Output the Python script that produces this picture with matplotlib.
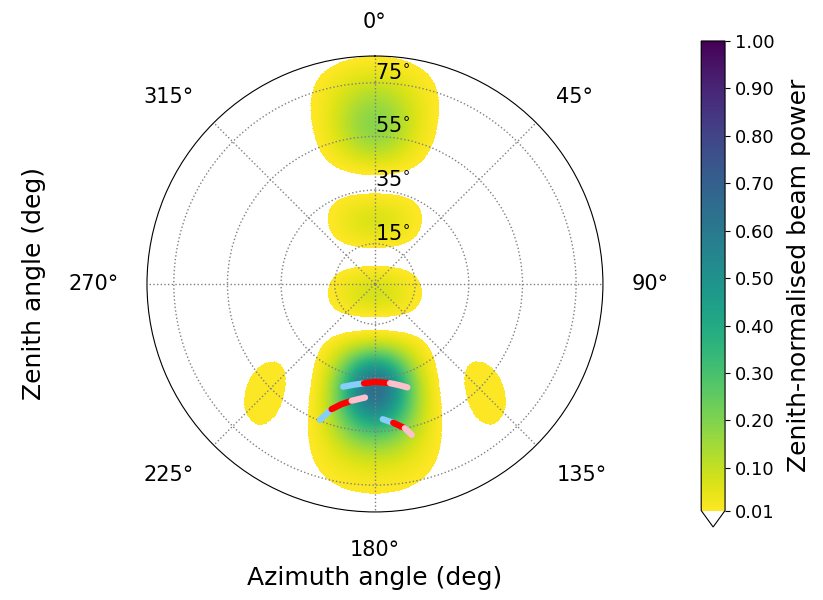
import numpy as np
import matplotlib
matplotlib.use("Agg")
import matplotlib.pyplot as plt
from matplotlib.colors import Normalize

# ---- tile beam model parameters (4x4 dipole tile over a ground plane) ----
FREQ_HZ = 158e6
DIPOLE_SPACING_M = 1.1
DIPOLE_HEIGHT_M = 0.278
N_SIDE = 4
POINT_AZ_DEG = 180.0
POINT_ZA_DEG = 43.5
ZA_MAX_DEG = 85.0
EW_PROJ_WEIGHT = 0.5   # strength of the E-W dipole foreshortening term

# ---- axes ticks ----
THETA_TICKS = [0, 45, 90, 135, 180, 225, 270, 315]
R_TICKS = [15, 35, 55, 75]
CBAR_TICKS = [0.01, 0.10, 0.20, 0.30, 0.40, 0.50, 0.60, 0.70, 0.80, 0.90, 1.00]
VMIN, VMAX = 0.01, 1.00

# ---- source tracks (azimuth, zenith angle in deg); each track has three
#      consecutive pieces drawn in SEG_COLOURS order ----
SEG_COLOURS = ["lightskyblue", "red", "pink"]
track1_az = [[197.2, 191.9, 186.3], [186.3, 180.0, 171.4], [171.4, 166.8, 162.6]]
track1_za = [[40.1, 38.4, 37.25], [37.25, 36.5, 37.4], [37.4, 38.7, 40.4]]
track2_az = [[202.0, 199.1], [199.1, 195.5, 191.3], [191.3, 185.0]]
track2_za = [[54.7, 49.4], [49.4, 46.5, 44.4], [44.4, 42.5]]
track3_az = [[176.7, 172.5], [172.5, 168.3], [168.3, 166.3]]
track3_za = [[50.5, 52.2], [52.2, 54.9], [54.9, 57.9]]


def tile_power(az_deg, za_deg):
    """Zenith-normalised tile power: array factor x ground plane x projection."""
    lam = 299792458.0 / FREQ_HZ
    k = 2 * np.pi / lam
    az = np.radians(az_deg)
    za = np.radians(za_deg)
    l = np.sin(za) * np.sin(az)
    m = np.sin(za) * np.cos(az)
    l0 = np.sin(np.radians(POINT_ZA_DEG)) * np.sin(np.radians(POINT_AZ_DEG))
    m0 = np.sin(np.radians(POINT_ZA_DEG)) * np.cos(np.radians(POINT_AZ_DEG))
    pos = (np.arange(N_SIDE) - (N_SIDE - 1) / 2.0) * DIPOLE_SPACING_M
    af_x = np.zeros(l.shape, dtype=complex)
    af_y = np.zeros(m.shape, dtype=complex)
    for p in pos:
        af_x += np.exp(1j * k * p * (l - l0))
        af_y += np.exp(1j * k * p * (m - m0))
    af = (af_x / N_SIDE) * (af_y / N_SIDE)
    gp = np.sin(k * DIPOLE_HEIGHT_M * np.cos(za)) / np.sin(k * DIPOLE_HEIGHT_M)
    proj = 1.0 - EW_PROJ_WEIGHT * l ** 2
    return np.abs(af) ** 2 * gp ** 2 * proj


az_grid = np.linspace(0.0, 360.0, 1441)
za_grid = np.linspace(0.0, ZA_MAX_DEG, 681)
AZ, ZA = np.meshgrid(az_grid, za_grid)
power = tile_power(AZ, ZA)

fig = plt.figure(figsize=(8.23, 6.0), dpi=100)
ax = fig.add_axes([0.1786, 0.1467, 0.554, 0.76], projection="polar")
ax.set_theta_zero_location("N")
ax.set_theta_direction(-1)

cmap = plt.get_cmap("viridis_r").copy()
cmap.set_under("white")
norm = Normalize(vmin=VMIN, vmax=VMAX)

mesh = ax.pcolormesh(np.radians(AZ), ZA, power, cmap=cmap, norm=norm,
                     shading="nearest", rasterized=True)

for t_az, t_za in [(track1_az, track1_za), (track2_az, track2_za), (track3_az, track3_za)]:
    for seg_az, seg_za, col in zip(t_az, t_za, SEG_COLOURS):
        ax.plot(np.radians(seg_az), seg_za, color=col, lw=4.5,
                solid_capstyle="round", zorder=3)

ax.set_ylim(0, ZA_MAX_DEG)
ax.set_yticks(R_TICKS)
ax.set_yticklabels([f"{v}$\\!^\\circ$" for v in R_TICKS], fontsize=15)
ax.set_rlabel_position(0)
ax.set_xticks(np.radians(THETA_TICKS))
ax.set_xticklabels([f"{t}\u00b0" for t in THETA_TICKS], fontsize=15)
ax.tick_params(axis="x", pad=10)
# anchor each azimuth label on the side facing the circle
for t, lbl in zip(THETA_TICKS, ax.get_xticklabels()):
    if 0 < t < 180:
        lbl.set_horizontalalignment("left")
    elif 180 < t < 360:
        lbl.set_horizontalalignment("right")
    else:
        lbl.set_horizontalalignment("center")
    if t in (90, 270):
        lbl.set_verticalalignment("center")
    elif t < 90 or t > 270:
        lbl.set_verticalalignment("baseline")
    else:
        lbl.set_verticalalignment("top")
ax.grid(True, linestyle=":", color="grey", lw=1.0)
ax.set_xlabel("Azimuth angle (deg)", fontsize=18, labelpad=4)
ax.set_ylabel("Zenith angle (deg)", fontsize=18, labelpad=73)

cax = fig.add_axes([0.852, 0.1217, 0.029, 0.81])
cb = fig.colorbar(mesh, cax=cax, extend="min", extendfrac=0.035,
                  ticks=CBAR_TICKS, format="%.2f")
cb.ax.tick_params(labelsize=13)
cb.set_label("Zenith-normalised beam power", fontsize=18, labelpad=9)

fig.savefig("out.png", dpi=100)
